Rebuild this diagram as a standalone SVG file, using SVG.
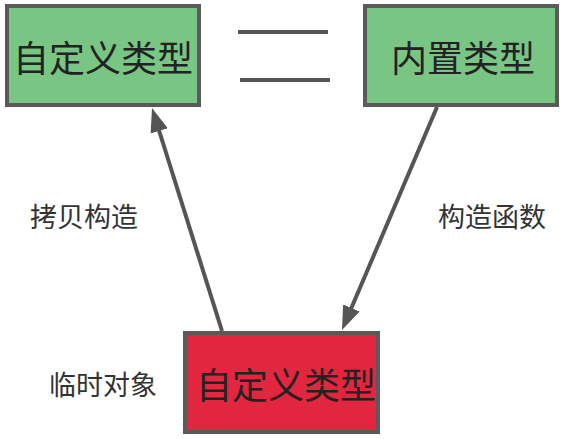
<svg xmlns="http://www.w3.org/2000/svg" width="568" height="439" viewBox="0 0 568 439">
<style>
.box{stroke:#5a5a5a;stroke-width:4}
.green{fill:#79c583}
.red{fill:#e2263f}
.t{font-family:"Noto Sans CJK SC","Noto Sans",sans-serif;fill:#222;text-anchor:middle;dominant-baseline:central}
.big{font-size:36px}
.lab{font-size:27px;fill:#333}
.conn{stroke:#555;stroke-width:4;fill:none}
</style>
<defs>
<marker id="ah" viewBox="0 0 24 18" refX="12" refY="9" markerWidth="24" markerHeight="18" markerUnits="userSpaceOnUse" orient="auto">
<path d="M0,0 L24,9 L0,18 z" fill="#555"/>
</marker>
</defs>
<rect width="568" height="439" fill="#fff"/>
<g id="node-custom-top">
<rect class="box green" x="7" y="6" width="192" height="99"/>
<text class="t big" x="103" y="56">自定义类型</text>
</g>
<g id="node-builtin">
<rect class="box green" x="365" y="6" width="192" height="99"/>
<text class="t big" x="463" y="56">内置类型</text>
</g>
<g id="node-custom-bottom">
<rect class="box red" x="185" y="333" width="193" height="99"/>
<text class="t big" x="286" y="383">自定义类型</text>
</g>
<g id="equals">
<line class="conn" x1="238" y1="32" x2="328" y2="32"/>
<line class="conn" x1="240" y1="80" x2="330" y2="80"/>
</g>
<g id="connectors">
<line class="conn" x1="222" y1="331" x2="155.6" y2="119.5" marker-end="url(#ah)"/>
<line class="conn" x1="437" y1="107" x2="346.7" y2="319" marker-end="url(#ah)"/>
</g>
<g id="labels">
<text class="t lab" x="84" y="215">拷贝构造</text>
<text class="t lab" x="492" y="215">构造函数</text>
<text class="t lab" x="103" y="383">临时对象</text>
</g>
</svg>
